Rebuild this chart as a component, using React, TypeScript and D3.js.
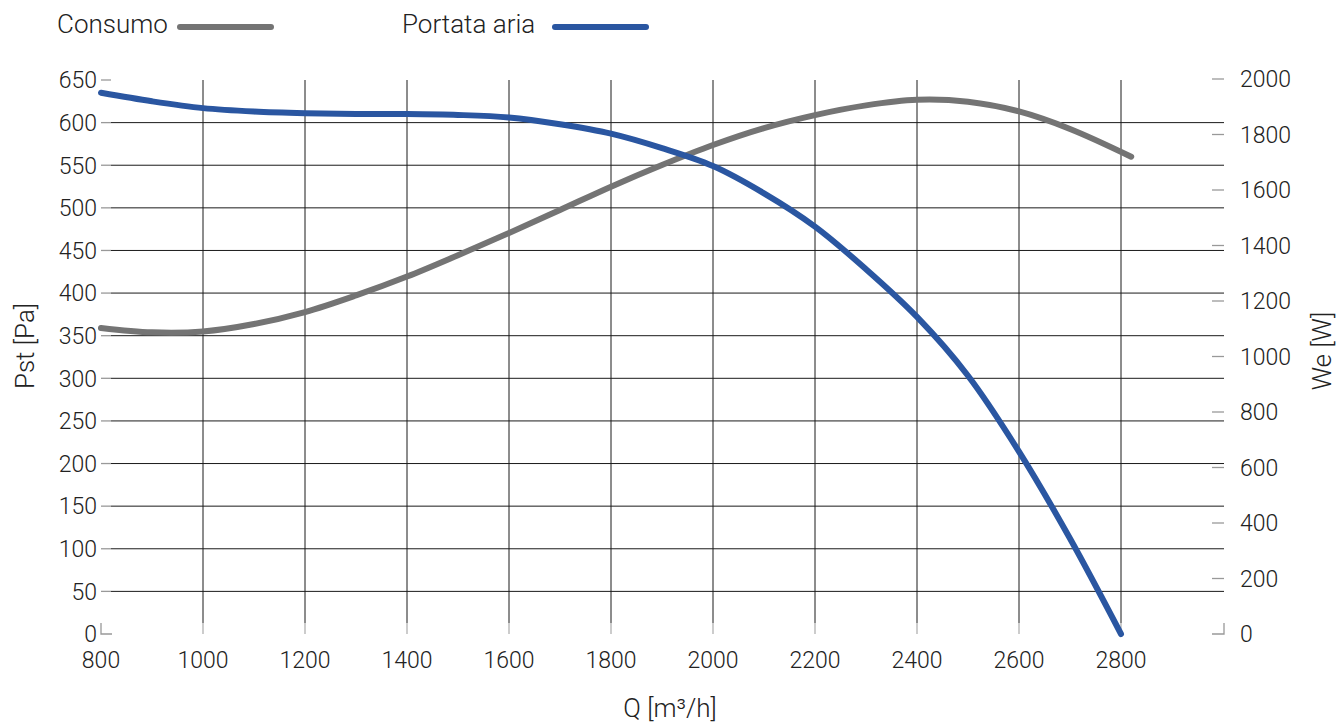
import React from "react";
import * as d3 from "d3";

const qTicks = [800, 1000, 1200, 1400, 1600, 1800, 2000, 2200, 2400, 2600, 2800];
const pstTicks = [0, 50, 100, 150, 200, 250, 300, 350, 400, 450, 500, 550, 600, 650];
const weTicks = [0, 200, 400, 600, 800, 1000, 1200, 1400, 1600, 1800, 2000];

const portataQ = [800, 900, 1000, 1100, 1200, 1300, 1400, 1500, 1600, 1700, 1800, 1900, 2000, 2100, 2200, 2300, 2400, 2500, 2600, 2700, 2800];
const portataPst = [635, 625, 617, 613, 611, 610, 610, 609, 606, 598, 587, 570, 549, 517, 478, 428, 372, 303, 214, 112, 0];

const consumoQ = [800, 900, 1000, 1100, 1200, 1300, 1400, 1500, 1600, 1700, 1800, 1900, 2000, 2100, 2200, 2300, 2400, 2500, 2600, 2700, 2820];
const consumoWe = [1103, 1087, 1090, 1117, 1160, 1220, 1288, 1365, 1445, 1528, 1612, 1690, 1762, 1823, 1870, 1905, 1925, 1918, 1883, 1820, 1720];

const legendLabels = ["Consumo", "Portata aria"];
const xTitle = "Q [m³/h]";
const yLeftTitle = "Pst [Pa]";
const yRightTitle = "We [W]";

const GRAY = "#747474";
const BLUE = "#2a56a1";
const FONT = "Roboto, 'DejaVu Sans', sans-serif";
const TXT = "#222";
const NUM = 23;
const WORD = 26;

export default function App() {
  const x = d3.scaleLinear().domain([800, 2800]).range([101, 1121]);
  const yL = d3.scaleLinear().domain([0, 650]).range([634, 80]);
  const yR = d3.scaleLinear().domain([0, 2000]).range([634, 79]);

  const lineP = d3
    .line<number>()
    .x((_, i) => x(portataQ[i]))
    .y((d) => yL(d))
    .curve(d3.curveCatmullRom.alpha(0.5));
  const lineC = d3
    .line<number>()
    .x((_, i) => x(consumoQ[i]))
    .y((d) => yR(d))
    .curve(d3.curveCatmullRom.alpha(0.5));

  const left = x(800);
  const right = 1224;
  const bottom = yL(0);
  const top = yL(650);

  return (
    <svg
      width={1336}
      height={722}
      style={{ position: "absolute", left: 0, top: 0, background: "#fff" }}
      fontFamily={FONT}
      fontWeight={300}
    >
      {pstTicks
        .filter((v) => v > 0 && v < 650)
        .map((v) => (
          <line key={"hg" + v} x1={left + 10} x2={right} y1={yL(v)} y2={yL(v)} stroke="#1a1a1a" strokeWidth={1} />
        ))}
      {qTicks
        .filter((v) => v > 800)
        .map((v) => (
          <g key={"vg" + v}>
            <line x1={x(v)} x2={x(v)} y1={top} y2={bottom - 11} stroke="#1a1a1a" strokeWidth={1} />
            <line x1={x(v)} x2={x(v)} y1={bottom - 11} y2={bottom} stroke="#aaa" strokeWidth={1.2} />
          </g>
        ))}
      {pstTicks
        .filter((v) => v > 0)
        .map((v) => (
          <line key={"lt" + v} x1={left} x2={left + 10} y1={yL(v)} y2={yL(v)} stroke="#999" strokeWidth={1.3} />
        ))}
      {weTicks
        .filter((v) => v > 0)
        .map((v) => (
          <line key={"rt" + v} x1={right - 12} x2={right} y1={yR(v)} y2={yR(v)} stroke="#999" strokeWidth={1.3} />
        ))}
      <path d={`M${left},${bottom - 11}V${bottom}H${left + 11}`} fill="none" stroke="#999" strokeWidth={1.3} />
      <path d={`M${right - 12},${bottom}H${right}V${bottom - 11}`} fill="none" stroke="#999" strokeWidth={1.3} />

      <path d={lineC(consumoWe) || ""} fill="none" stroke={GRAY} strokeWidth={6} strokeLinecap="round" />
      <path d={lineP(portataPst) || ""} fill="none" stroke={BLUE} strokeWidth={6} strokeLinecap="round" />

      {pstTicks.map((v) => (
        <text key={"ll" + v} x={97} y={yL(v)} dy="0.36em" textAnchor="end" fontSize={NUM} fill={TXT}>
          {v}
        </text>
      ))}
      {weTicks.map((v) => (
        <text key={"rl" + v} x={1240} y={yR(v)} dy="0.36em" textAnchor="start" fontSize={NUM} fill={TXT}>
          {v}
        </text>
      ))}
      {qTicks.map((v) => (
        <text key={"xl" + v} x={x(v)} y={668} textAnchor="middle" fontSize={NUM} fill={TXT}>
          {v}
        </text>
      ))}

      <text x={670} y={717} textAnchor="middle" fontSize={WORD} fill={TXT}>
        {xTitle}
      </text>
      <text transform="translate(34,346) rotate(-90)" textAnchor="middle" fontSize={WORD} fill={TXT}>
        {yLeftTitle}
      </text>
      <text transform="translate(1331,351) rotate(-90)" textAnchor="middle" fontSize={WORD} fill={TXT}>
        {yRightTitle}
      </text>

      <text x={57} y={33} fontSize={WORD} fill={TXT}>
        {legendLabels[0]}
      </text>
      <line x1={180} x2={271} y1={27} y2={27} stroke={GRAY} strokeWidth={6} strokeLinecap="round" />
      <text x={402} y={33} fontSize={WORD} fill={TXT}>
        {legendLabels[1]}
      </text>
      <line x1={555} x2={646} y1={27} y2={27} stroke={BLUE} strokeWidth={6} strokeLinecap="round" />
    </svg>
  );
}
